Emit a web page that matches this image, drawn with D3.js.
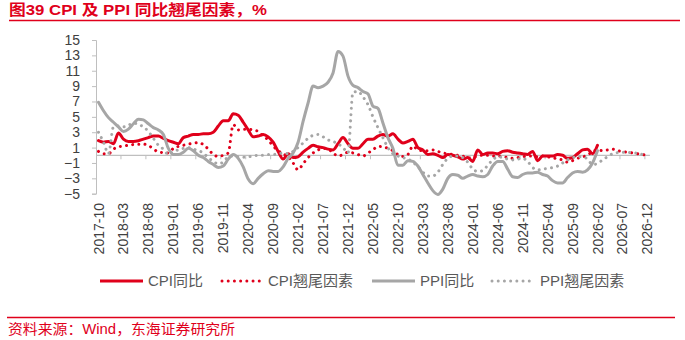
<!DOCTYPE html>
<html>
<head>
<meta charset="utf-8">
<script src="https://cdn.jsdelivr.net/npm/d3@7"></script>
<style>
  html, body { margin: 0; padding: 0; background: #fff; }
  svg { display: block; font-family: "Liberation Sans", Arial, "Noto Sans CJK SC", sans-serif; }
</style>
</head>
<body>
<svg id="chart" width="685" height="340"></svg>
<script>
// Monthly categories, 2017-10 .. 2026-12
const startMonth = new Date(2017, 9, 1);
const monthCount = 111;
const months = d3.range(monthCount).map(i => d3.timeFormat("%Y-%m")(d3.timeMonth.offset(startMonth, i)));

// Axis tick labels
const xTickLabels = ["2017-10","2018-03","2018-08","2019-01","2019-06","2019-11","2020-04","2020-09",
  "2021-02","2021-07","2021-12","2022-05","2022-10","2023-03","2023-08","2024-01","2024-06",
  "2024-11","2025-04","2025-09","2026-02","2026-07","2026-12"];
const yTicks = [15, 13, 11, 9, 7, 5, 3, 1, -1, -3, -5];

// CPI year-on-year, %, 2017-10 .. 2026-02
const cpiYoY = [
  1.9, 1.7, 1.8,
  1.5, 2.9, 2.1, 1.8, 1.8, 1.9, 2.1, 2.3, 2.5, 2.5, 2.2, 1.9,
  1.7, 1.5, 2.3, 2.5, 2.7, 2.7, 2.8, 2.8, 3.0, 3.8, 4.5, 4.5,
  5.4, 5.2, 4.3, 3.3, 2.4, 2.5, 2.7, 2.4, 1.7, 0.5, -0.5, 0.2,
  -0.3, -0.2, 0.4, 0.9, 1.3, 1.1, 1.0, 0.8, 0.7, 1.5, 2.3, 1.5,
  0.9, 0.9, 1.5, 2.1, 2.1, 2.5, 2.7, 2.5, 2.8, 2.1, 1.6, 1.8,
  2.1, 1.0, 0.7, 0.1, 0.2, 0.0, -0.3, 0.1, 0.0, -0.2, -0.5, -0.3,
  -0.8, 0.7, 0.1, 0.3, 0.3, 0.2, 0.5, 0.6, 0.4, 0.3, 0.2, 0.1,
  0.5, -0.7, -0.1, -0.1, -0.1, 0.1, 0.0, -0.4, -0.3, 0.2, 0.7, 0.8,
  0.2, 1.3
];

// CPI carry-over effect, %, 2017-10 .. 2026-12
const cpiCarry = [
  0.5, 0.2, 0.2,
  0.8, 1.1, 1.2, 1.3, 1.4, 1.45, 1.45, 1.3, 0.8, 0.45, 0.35, 0.3,
  0.9, 1.15, 1.3, 1.45, 1.55, 1.65, 1.4, 0.8, 0.1, -0.15, 0.0, 0.3,
  4.0, 3.3, 3.4, 3.4, 3.3, 3.1, 2.5, 2.0, 1.2, 0.6, 0.2, -0.2,
  -1.0, -1.9, -1.1, -0.3, 0.3, 0.7, 0.9, 0.8, 0.3, -0.1, 0.1, 0.4,
  0.3, 0.1, -0.1, 0.3, 0.7, 1.15, 1.1, 0.9, 0.6, 0.1, -0.15, 0.1,
  1.2, 0.7, 0.6, 0.6, 0.7, 0.5, 0.3, 0.2, 0.1, 0.0, -0.1, -0.4,
  -0.3, -0.1, 0.0, 0.0, -0.1, -0.1, -0.15, -0.3, -0.4, -0.3, -0.2, -0.1,
  -0.1, -0.2, -0.1, -0.2, -0.3, -0.5, -0.6, -0.9, -0.7, -0.4, -0.2, 0.0,
  0.5, 0.7, 0.6, 0.7, 0.8, 0.6, 0.5, 0.4, 0.3, 0.2, 0.1, 0.0
];

// PPI year-on-year, %, 2017-10 .. 2026-02
const ppiYoY = [
  6.9, 5.8, 4.9,
  4.3, 3.7, 3.1, 3.4, 4.1, 4.7, 4.6, 4.1, 3.6, 3.3, 2.7, 0.9,
  0.1, 0.1, 0.4, 0.9, 0.6, 0.0, -0.3, -0.8, -1.2, -1.6, -1.4, -0.5,
  0.1, -0.4, -1.5, -3.1, -3.7, -3.0, -2.4, -2.0, -2.1, -2.1, -1.5, -0.4,
  0.3, 1.7, 4.4, 6.8, 9.0, 8.8, 9.0, 9.5, 10.7, 13.5, 12.9, 10.3,
  9.1, 8.8, 8.3, 8.0, 6.4, 6.1, 4.2, 2.3, 0.9, -1.3, -1.3, -0.7,
  -0.8, -1.4, -2.5, -3.6, -4.6, -5.1, -4.4, -3.0, -2.5, -2.6, -3.0, -2.7,
  -2.5, -2.7, -2.8, -2.5, -1.4, -0.8, -0.8, -1.8, -2.8, -2.9, -2.5, -2.3,
  -2.3, -2.2, -2.5, -2.7, -3.3, -3.6, -3.6, -2.9, -2.3, -2.1, -2.2, -1.9,
  -1.0, 0.6
];

// PPI carry-over effect, %, 2017-10 .. 2026-12
const ppiCarry = [
  3.0, 1.7, 0.2,
  3.7, 3.8, 3.7, 3.9, 4.2, 4.0, 3.7, 3.1, 2.2, 1.3, 0.8, 0.1,
  0.5, 0.7, 0.9, 1.0, 0.8, 0.6, 0.3, -0.3, -0.8, -1.1, -0.9, -0.2,
  -0.1, -0.2, -0.25, -0.2, -0.1, 0.0, 0.0, 0.1, 0.1, 0.2, 0.3, 0.2,
  0.5, 1.0, 1.6, 2.2, 2.6, 2.7, 2.4, 2.0, 1.8, 1.5, 1.0, 0.3,
  8.2, 8.3, 7.6, 6.6, 5.0, 3.6, 2.3, 1.0, 0.2, -0.1, -0.3, -0.5,
  -0.9, -1.5, -2.2, -2.7, -2.7, -2.2, -1.2, -0.4, -0.1, -0.1, -0.3, -0.9,
  -1.8, -2.1, -2.0, -1.3, -0.6, -0.2, -0.3, -0.5, -0.6, -0.5, -0.4, -0.8,
  -1.6, -1.9, -1.8, -1.7, -1.6, -1.4, -1.0, -0.6, -0.3, -0.2, -0.2, -0.5,
  -1.2, -1.1, -0.6, -0.2, 0.2, 0.35, 0.4, 0.4, 0.3, 0.3, 0.1, 0.0
];

const RED = "#e0001b";
const GREY = "#a6a6a6";
const AXIS = "#bfbfbf";
const TEXT = "#404040";

const svg = d3.select("#chart");

// Title and rules
svg.append("text").attr("x", 9).attr("y", 15)
  .attr("fill", RED).attr("font-size", 15).attr("font-weight", "bold")
  .attr("textLength", 258).attr("lengthAdjust", "spacingAndGlyphs")
  .text("图39  CPI 及 PPI 同比翘尾因素，%");
svg.append("line").attr("x1", 9).attr("x2", 680).attr("y1", 20.5).attr("y2", 20.5)
  .attr("stroke", RED).attr("stroke-width", 1.5);
svg.append("line").attr("x1", 7).attr("x2", 675).attr("y1", 317.5).attr("y2", 317.5)
  .attr("stroke", RED).attr("stroke-width", 1.5);
svg.append("text").attr("x", 8).attr("y", 334)
  .attr("fill", RED).attr("font-size", 14)
  .attr("textLength", 227).attr("lengthAdjust", "spacingAndGlyphs")
  .text("资料来源：Wind，东海证券研究所");

// Scales
const x = d3.scalePoint().domain(months).range([98.5, 647.4]);
const step = x.step();
const y = d3.scaleLinear().domain([-5, 15]).range([193.7, 40]);

// Y axis
const yAxis = d3.axisLeft(y).tickValues(yTicks).tickSize(4).tickPadding(12).tickFormat(d3.format("d"));
const gy = svg.append("g").attr("transform", "translate(96,0)").call(yAxis);
gy.select(".domain").attr("stroke", AXIS);
gy.selectAll(".tick line").attr("stroke", AXIS);
gy.selectAll(".tick text").attr("fill", TEXT).attr("font-size", 14)
  .attr("font-family", "Liberation Sans, Arial, sans-serif");

// X axis line at zero with tick marks between categories
const gx = svg.append("g");
gx.append("line").attr("x1", 96).attr("x2", x(months[monthCount - 1]) + step / 2)
  .attr("y1", y(0)).attr("y2", y(0)).attr("stroke", AXIS).attr("stroke-width", 1.2);
gx.selectAll("line.tk").data(xTickLabels.slice(1)).join("line").attr("class", "tk")
  .attr("x1", d => x(d) - step / 2).attr("x2", d => x(d) - step / 2)
  .attr("y1", y(0)).attr("y2", y(0) + 4).attr("stroke", AXIS);
gx.selectAll("text").data(xTickLabels).join("text")
  .attr("transform", d => `translate(${x(d)},203) rotate(-90)`)
  .attr("text-anchor", "end").attr("dy", "0.36em")
  .attr("fill", TEXT).attr("font-size", 14)
  .text(d => d);

// Lines
const lineGen = d3.line().x((d, i) => x(months[i])).y(d => y(d)).curve(d3.curveMonotoneX);
const series = [
  { name: "CPI同比", values: cpiYoY, color: RED, dash: null },
  { name: "CPI翘尾因素", values: cpiCarry, color: RED, dash: "0.01 6.2" },
  { name: "PPI同比", values: ppiYoY, color: GREY, dash: null },
  { name: "PPI翘尾因素", values: ppiCarry, color: GREY, dash: "0.01 6.2" }
];
svg.append("g").selectAll("path").data(series).join("path")
  .attr("d", s => lineGen(s.values))
  .attr("fill", "none")
  .attr("stroke", s => s.color)
  .attr("stroke-width", 3)
  .attr("stroke-linecap", "round")
  .attr("stroke-linejoin", "round")
  .attr("stroke-dasharray", s => s.dash);

// Legend
const legendPos = [
  { lx: 100, tx: 148 },
  { lx: 222, tx: 268 },
  { lx: 372, tx: 420 },
  { lx: 492, tx: 540 }
];
const lg = svg.append("g").selectAll("g").data(series).join("g");
lg.append("line")
  .attr("x1", (s, i) => legendPos[i].lx).attr("x2", (s, i) => legendPos[i].lx + 43)
  .attr("y1", 281).attr("y2", 281)
  .attr("stroke", s => s.color).attr("stroke-width", 3)
  .attr("stroke-linecap", s => s.dash ? "round" : "butt")
  .attr("stroke-dasharray", s => s.dash);
lg.append("text")
  .attr("x", (s, i) => legendPos[i].tx).attr("y", 286)
  .attr("fill", "#595959").attr("font-size", 15)
  .text(s => s.name);
</script>
</body>
</html>
